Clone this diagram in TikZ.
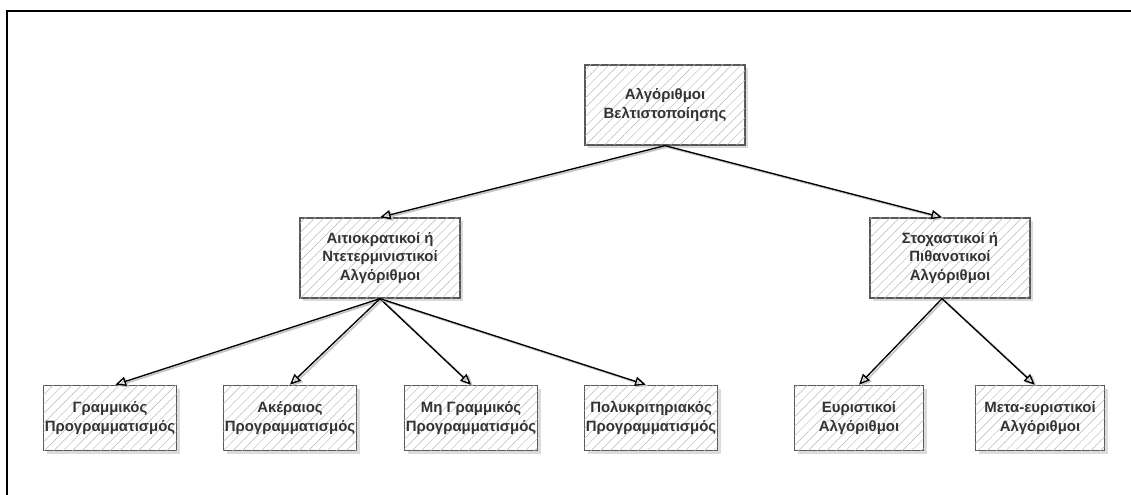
\documentclass[tikz,border=0pt]{standalone}
\usepackage{fontspec}
\setmainfont{Liberation Sans}
\usetikzlibrary{arrows.meta,patterns.meta,shadows}
\begin{document}
\begin{tikzpicture}[x=0.75pt,y=-0.75pt,
  box/.style={draw=gray!70!black, line width=1pt, minimum width=#1,
    minimum height=60pt, align=center, text=black!80, inner sep=1pt,
    font=\fontsize{11.2}{14}\selectfont\bfseries,
    fill=white,
    postaction={pattern={Lines[angle=45,distance=5pt,line width=0.35pt]},pattern color=gray!55},
    drop shadow={shadow xshift=2.5pt,shadow yshift=-2.5pt,fill=gray!35,opacity=0.8}},
  box/.default=120pt,
  small/.style={box=97pt, minimum height=49pt},
  link/.style={draw=black, line width=1pt, -{Triangle[open,length=8pt,width=7pt]},
    preaction={draw=gray!45, line width=1.4pt, transform canvas={xshift=1.5pt,yshift=-1pt}}}]
\useasboundingbox (0,0) rectangle (1131,495);
% frame edges
\draw[line width=1.4pt] (7,495) -- (7,11) -- (1131,11);

\node[box] (root) at (665,105) {Αλγόριθμοι\\Βελτιστοποίησης};
\node[box] (det) at (380,258) {Αιτιοκρατικοί ή\\Ντετερμινιστικοί\\Αλγόριθμοι};
\node[box] (sto) at (950,258) {Στοχαστικοί ή\\Πιθανοτικοί\\Αλγόριθμοι};

\node[small] (lin) at (110,418) {Γραμμικός\\Προγραμματισμός};
\node[small] (int) at (290,418) {Ακέραιος\\Προγραμματισμός};
\node[small] (nlin) at (471,418) {Μη Γραμμικός\\Προγραμματισμός};
\node[small] (multi) at (651,418) {Πολυκριτηριακός\\Προγραμματισμός};
\node[small] (heur) at (859,418) {Ευριστικοί\\Αλγόριθμοι};
\node[small] (meta) at (1040,418) {Μετα-ευριστικοί\\Αλγόριθμοι};

\draw[link] (root.south) -- (det.north);
\draw[link] (root.south) -- ([xshift=-6pt]sto.north);
\draw[link] (det.south) -- ([xshift=4pt]lin.north);
\draw[link] (det.south) -- (int.north);
\draw[link] (det.south) -- (nlin.north);
\draw[link] (det.south) -- ([xshift=-4pt]multi.north);
\draw[link] ([xshift=-6pt]sto.south) -- (heur.north);
\draw[link] ([xshift=-6pt]sto.south) -- ([xshift=-4pt]meta.north);
\end{tikzpicture}
\end{document}
